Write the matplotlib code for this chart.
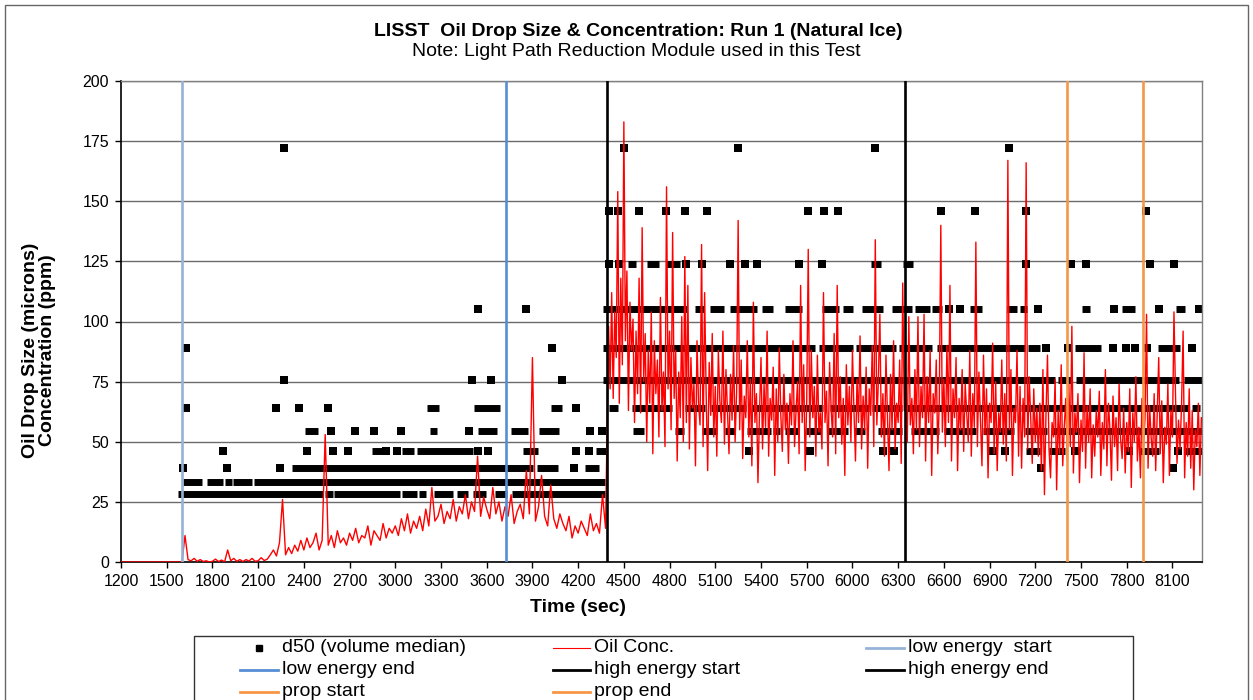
import numpy as np
import matplotlib.pyplot as plt
from matplotlib.lines import Line2D
from matplotlib.patches import Rectangle

plt.rcParams['font.family'] = ['Liberation Sans', 'DejaVu Sans']

# Oil concentration (ppm).
# first part sampled every 20 s from 1200 s, second part every 10 s from 4390 s
conc1_start, conc1_step = 1200, 20
oil_conc_1 = [
    0, 0, 0, 0, 0, 0, 0, 0, 0, 0, 0, 0, 0, 0, 0, 0, 0, 0, 0, 0,
    0, 11, 1, 0.5, 1.5, 0.3, 1, 0.2, 0.5, 0,
    0.3, 1.2, 0.2, 0.8, 0.1, 5, 0.5, 1.5, 0.3, 1.0,
    0.2, 1.0, 0.4, 1.5, 0.3, 0.5, 1.8, 0.6, 1.2, 3.0,
    5, 2.5, 8, 26, 3, 6, 3.5, 7, 4.5, 9,
    5, 10, 6, 8, 12, 5, 9, 53, 7, 11,
    6, 13, 8, 10, 7, 12, 9, 14, 8, 11,
    10, 15, 7, 13, 11, 9, 16, 10, 14, 12,
    15, 11, 18, 13, 20, 12, 17, 14, 19, 13,
    22, 15, 31, 17, 19, 24, 16, 21, 18, 26,
    17, 23, 20, 28, 18, 25, 21, 44, 19, 27,
    22, 18, 31, 20, 25, 17, 23, 19, 28, 16,
    21, 24, 18, 38, 20, 85, 17, 23, 36, 19,
    15, 32, 18, 14, 20, 16, 13, 19, 10, 15,
    12, 17, 14, 11, 20, 13, 16, 12, 28, 14,
]
conc2_start, conc2_step = 4390, 10
oil_conc_2 = [
    55, 98, 72, 112, 68, 104, 85, 154, 66, 118, 82, 183, 92, 121, 63, 108, 88, 101, 58, 96,
    70, 118, 62, 139, 75, 95, 50, 88, 66, 104, 45, 92, 70, 84, 52, 110, 63, 79, 48, 156,
    72, 96, 55, 137, 68, 88, 42, 79, 60, 102, 50, 127, 58, 115, 47, 85, 64, 74, 40, 92,
    66, 57, 132, 48, 112, 70, 38, 83, 61, 95, 52, 73, 44, 88, 67, 58, 96, 49, 80, 63,
    45, 78, 59, 90, 50, 71, 142, 55, 84, 43, 69, 60, 92, 52, 76, 40, 108, 58, 70, 33,
    62, 85, 47, 74, 56, 96, 44, 68, 59, 81, 36, 72, 50, 89, 61, 46, 78, 55, 66, 41,
    70, 57, 92, 48, 63, 75, 45, 115, 58, 82, 38, 67, 130, 52, 88, 60, 73, 44, 86, 54,
    62, 47, 112, 58, 71, 40, 83, 64, 52, 95, 45, 115, 60, 77, 49, 68, 36, 82, 57, 73,
    50, 88, 63, 42, 76, 58, 94, 47, 69, 55, 81, 39, 72, 61, 90, 48, 134, 57, 75, 103,
    52, 70, 44, 86, 60, 38, 78, 55, 92, 47, 66, 58, 84, 41, 116, 63, 74, 50, 102, 57,
    68, 45, 80, 55, 102, 48, 73, 60, 103, 42, 77, 58, 88, 36, 70, 62, 84, 45, 67, 140,
    54, 76, 48, 90, 58, 115, 42, 72, 60, 85, 38, 68, 55, 80, 46, 74, 62, 50, 88, 44,
    70, 56, 133, 48, 79, 60, 40, 86, 53, 72, 35, 66, 58, 91, 45, 75, 38, 62, 54, 84,
    49, 70, 42, 167, 55, 80, 36, 64, 58, 88, 44, 73, 39, 68, 52, 166, 47, 77, 60, 41,
    72, 50, 64, 44, 66, 38, 80, 28, 61, 86, 47, 35, 58, 52, 76, 30, 63, 45, 82, 40,
    56, 68, 42, 74, 48, 98, 37, 62, 54, 70, 33, 59, 46, 87, 39, 65, 50, 72, 35, 57,
    44, 63, 52, 71, 36, 58, 47, 80, 40, 66, 55, 34, 69, 48, 60, 38, 74, 51, 43, 64,
    37, 58, 46, 72, 31, 62, 50, 77, 42, 56, 35, 68, 48, 60, 103, 39, 65, 52, 44, 70,
    38, 61, 85, 45, 67, 33, 56, 49, 74, 36, 63, 52, 104, 70, 41, 59, 47, 66, 96, 35,
    58, 44, 72, 39, 63, 30, 55, 48, 66, 36, 60,
]

# d50 (microns): stretches where samples sit in one size bin (size, t_from, t_to)
d50_runs = [
    (28.1, 1572, 2523), (28.1, 2541, 2589), (28.1, 2600, 3030), (28.1, 3046, 3144),
    (28.1, 3157, 3201), (28.1, 3254, 3376), (28.1, 3407, 3477), (28.1, 3510, 3595),
    (28.1, 3654, 3735), (28.1, 3765, 4375),
    (33.3, 1609, 1733), (33.3, 1766, 1867), (33.3, 1882, 1926), (33.3, 1937, 2057),
    (33.3, 2075, 4375),
    (39.2, 2320, 3905), (39.2, 3931, 4065), (39.2, 4245, 4338),
    (46.1, 2850, 2910), (46.1, 3045, 3125), (46.1, 3140, 3512), (46.1, 3840, 3938),
    (46.1, 4318, 4382), (46.1, 7142, 7232), (46.1, 7289, 7394), (46.1, 7890, 8015),
    (46.1, 8174, 8300),
    (54.5, 2410, 2490), (54.5, 3225, 3272), (54.5, 3545, 3665), (54.5, 3760, 3873),
    (54.5, 3943, 4074), (54.5, 4557, 4630), (54.5, 4835, 4897), (54.5, 5012, 5108),
    (54.5, 5165, 5229), (54.5, 5305, 5463), (54.5, 5480, 5524), (54.5, 5557, 5651),
    (54.5, 5697, 5792), (54.5, 5838, 5972), (54.5, 6008, 6081), (54.5, 6169, 6322),
    (54.5, 6387, 6571), (54.5, 6600, 6810), (54.5, 6858, 7058), (54.5, 7133, 7279),
    (54.5, 7304, 8300),
    (64.2, 3205, 3290), (64.2, 3515, 3690), (64.2, 4020, 4091), (64.2, 4404, 4463),
    (64.2, 4551, 4816), (64.2, 4899, 5035), (64.2, 5073, 5301), (64.2, 5338, 5808),
    (64.2, 5856, 6110), (64.2, 6131, 6326), (64.2, 6337, 7072), (64.2, 7109, 8206),
    (64.2, 8227, 8279),
    (75.6, 4360, 7328), (75.6, 7352, 7444), (75.6, 7468, 8146), (75.6, 8174, 8300),
    (89.1, 4365, 5754), (89.1, 5782, 6005), (89.1, 6022, 6287), (89.1, 6305, 6521),
    (89.1, 6553, 7131), (89.1, 7153, 7232), (89.1, 7461, 7632), (89.1, 8006, 8148),
    (105.0, 4365, 4916), (105.0, 4968, 5024), (105.0, 5065, 5155), (105.0, 5194, 5373),
    (105.0, 5408, 5478), (105.0, 5557, 5666), (105.0, 5801, 5913), (105.0, 5940, 6005),
    (105.0, 6064, 6201), (105.0, 6258, 6388), (105.0, 6409, 6508), (105.0, 6519, 6586),
    (105.0, 6770, 6850), (105.0, 7014, 7079), (105.0, 7100, 7148), (105.0, 7505, 7560),
    (105.0, 7772, 7853), (105.0, 8126, 8181),
    (124.0, 4529, 4579), (124.0, 4655, 4728), (124.0, 4777, 4868), (124.0, 6120, 6186),
    (124.0, 6329, 6398),
]
# isolated d50 samples (time s, size microns)
d50_single = [
    (1609, 39.2), (1897, 39.2), (2243, 39.2), (4171, 39.2), (7240, 39.2), (8104, 39.2),
    (1871, 46.1), (2422, 46.1), (2588, 46.1), (2691, 46.1), (2939, 46.1), (3009, 46.1),
    (3544, 46.1), (3606, 46.1), (4183, 46.1), (4273, 46.1), (5321, 46.1), (5721, 46.1),
    (6198, 46.1), (6272, 46.1), (6921, 46.1), (7000, 46.1), (7459, 46.1), (7818, 46.1),
    (8137, 46.1),
    (2578, 54.5), (2735, 54.5), (2860, 54.5), (3037, 54.5), (3485, 54.5), (4277, 54.5),
    (4354, 54.5),
    (1626, 64.2), (2217, 64.2), (2368, 64.2), (2560, 64.2), (4185, 64.2),
    (2270, 75.6), (3501, 75.6), (3626, 75.6), (4091, 75.6),
    (1626, 89.1), (4030, 89.1), (7273, 89.1), (7415, 89.1), (7711, 89.1), (7794, 89.1),
    (7853, 89.1), (7936, 89.1), (8227, 89.1),
    (3540, 105.0), (3855, 105.0), (6633, 105.0), (6707, 105.0), (7219, 105.0),
    (7717, 105.0), (8013, 105.0), (8273, 105.0),
    (4404, 124.0), (4470, 124.0), (4907, 124.0), (5010, 124.0), (5196, 124.0),
    (5294, 124.0), (5373, 124.0), (5648, 124.0), (5800, 124.0), (7136, 124.0),
    (7433, 124.0), (7531, 124.0), (7953, 124.0), (8111, 124.0),
    (4402, 146.0), (4463, 146.0), (4601, 146.0), (4776, 146.0), (4903, 146.0),
    (5043, 146.0), (5709, 146.0), (5814, 146.0), (5906, 146.0), (6584, 146.0),
    (6807, 146.0), (7142, 146.0), (7925, 146.0),
    (2270, 172.0), (4500, 172.0), (5251, 172.0), (6147, 172.0), (7026, 172.0),
]

event_names = ['low energy  start', 'low energy end', 'high energy start',
               'high energy end', 'prop start', 'prop end']
event_times = [1600, 3725, 4390, 6345, 7405, 7910]
event_colors = ['#95B3D7', '#558ED5', 'black', 'black', '#F79646', '#F79646']

W, H = 1253, 700
fig = plt.figure(figsize=(W / 100, H / 100), dpi=100)
fig.patch.set_facecolor('white')

ax = fig.add_axes([121 / W, 1 - 562 / H, (1202 - 121) / W, (562 - 81) / H])

# d50
ax.hlines([r[0] for r in d50_runs], [r[1] for r in d50_runs], [r[2] for r in d50_runs],
          colors='black', linewidth=5.0, capstyle='butt', zorder=2)
ax.scatter([p[0] for p in d50_single], [p[1] for p in d50_single],
           marker='s', s=26, color='black', linewidths=0, zorder=2)

# oil concentration
t1 = conc1_start + conc1_step * np.arange(len(oil_conc_1))
t2 = conc2_start + conc2_step * np.arange(len(oil_conc_2))
ax.plot(np.concatenate([t1, t2]), oil_conc_1 + oil_conc_2,
        color='#FF0000', lw=1.0, zorder=3)

for t, c in zip(event_times, event_colors):
    ax.axvline(t, color=c, lw=1.9, zorder=4)

ax.set_xlim(1200, 8294)
ax.set_ylim(0, 200)
ax.set_xticks(np.arange(1200, 8101, 300))
ax.set_yticks(np.arange(0, 201, 25))
ax.yaxis.grid(True, color='#6b6b6b', lw=1.0)
ax.set_axisbelow(True)
ax.tick_params(direction='out', length=4, width=1, labelsize=11.5, pad=4.5)
for s in ['left', 'bottom']:
    ax.spines[s].set_color('black')
    ax.spines[s].set_linewidth(1.2)
for s in ['top', 'right']:
    ax.spines[s].set_color('#808080')
    ax.spines[s].set_linewidth(1.0)

# texts
fig.text(638 / W, 1 - 31 / H, 'LISST  Oil Drop Size & Concentration: Run 1 (Natural Ice)',
         ha='center', va='center', fontsize=14, fontweight='bold')
fig.text(636 / W, 1 - 52 / H, 'Note: Light Path Reduction Module used in this Test',
         ha='center', va='center', fontsize=14)
fig.text(39 / W, 1 - 350 / H, 'Oil Drop Size (microns)\nConcentration (ppm)',
         ha='center', va='center', rotation=90, fontsize=14, fontweight='bold',
         multialignment='center', linespacing=1.05)
fig.text(578 / W, 1 - 608 / H, 'Time (sec)', ha='center', va='center',
         fontsize=14, fontweight='bold')

# outer chart border and legend box
fig.patches.append(Rectangle((5 / W, -0.05), (1248 - 5) / W, 1.05 - 5 / H,
                             transform=fig.transFigure, fill=False,
                             edgecolor='#666666', lw=1.0))
fig.patches.append(Rectangle((194 / W, -0.05), (1133 - 194) / W, 0.05 + 1 - 636 / H,
                             transform=fig.transFigure, fill=False,
                             edgecolor='#333333', lw=1.0))

# legend entries, laid out row by row like the spreadsheet legend
rows_y = [648, 670, 691.5]
cols = [(240, 278, 282), (553, 590, 594), (866, 904, 908)]
entries = [('d50 (volume median)', 'marker', 'black'),
           ('Oil Conc.', 'thin', '#FF0000')]
entries += [(n, 'thick', c) for n, c in zip(event_names, event_colors)]
for i, (name, kind, color) in enumerate(entries):
    y = 1 - rows_y[i // 3] / H
    x0, x1, xt = cols[i % 3]
    if kind == 'marker':
        fig.add_artist(Line2D([(x0 + x1) / 2 / W], [y], marker='s', markersize=3.8,
                              color=color, linestyle='none', transform=fig.transFigure))
    else:
        fig.add_artist(Line2D([x0 / W, x1 / W], [y, y], color=color,
                              lw=0.8 if kind == 'thin' else 2.0,
                              transform=fig.transFigure))
    fig.text(xt / W, y, name, ha='left', va='center', fontsize=14)

fig.savefig('out.png', dpi=100)
